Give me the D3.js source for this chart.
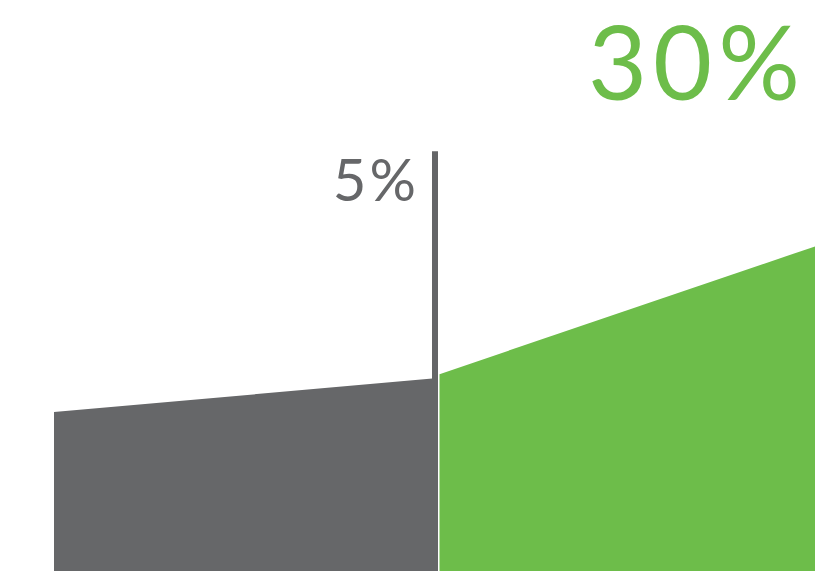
<!DOCTYPE html>
<html>
<head>
<meta charset="utf-8">
<script src="https://cdn.jsdelivr.net/npm/d3@7"></script>
<style>
  html, body { margin: 0; padding: 0; background: #fff; overflow: hidden; }
  svg { display: block; }
  .label { font-family: Lato, "Open Sans", sans-serif; font-weight: 400; }
</style>
</head>
<body>
<svg width="815" height="571"></svg>
<script>
// before / after segments (index units, 0 = baseline)
const before = [{ x: 0, v: 48.6 }, { x: 1, v: 59.0 }];
const after = [{ x: 1, v: 60.2 }, { x: 2, v: 100 }];
const markerTop = 128.4;
const labels = [
  { text: '5%', x: 1, v: 113.3, size: 58, spacing: 3, dx: -19, color: '#666769' },
  { text: '30%', x: 2, v: 144, size: 102, spacing: 6, dx: -16, color: '#6dbd4a' }
];

const svg = d3.select('svg');
const width = +svg.attr('width');
const height = +svg.attr('height');

const x = d3.scaleLinear().domain([0, 2]).range([54, 822]);
const y = d3.scaleLinear().domain([0, 100]).range([height, 244]);

const area = d3.area()
  .x(d => x(d.x))
  .y0(y(0))
  .y1(d => y(d.v));

svg.append('path')
  .datum(before)
  .attr('fill', '#666769')
  .attr('d', area);

svg.append('path')
  .datum(after)
  .attr('fill', '#6dbd4a')
  .attr('d', area.x(d => d.x === 1 ? x(d.x) + 1.5 : x(d.x)));

// marker line at the split
svg.append('line')
  .attr('x1', x(1) - 3)
  .attr('x2', x(1) - 3)
  .attr('y1', y(markerTop))
  .attr('y2', y(before[1].v) + 2)
  .attr('stroke', '#646567')
  .attr('stroke-width', 6);

svg.selectAll('text.label')
  .data(labels)
  .enter()
  .append('text')
  .attr('class', 'label')
  .attr('x', d => x(d.x) + d.dx)
  .attr('y', d => y(d.v))
  .attr('text-anchor', 'end')
  .attr('font-size', d => d.size)
  .attr('letter-spacing', d => d.spacing)
  .attr('fill', d => d.color)
  .text(d => d.text);
</script>
</body>
</html>
